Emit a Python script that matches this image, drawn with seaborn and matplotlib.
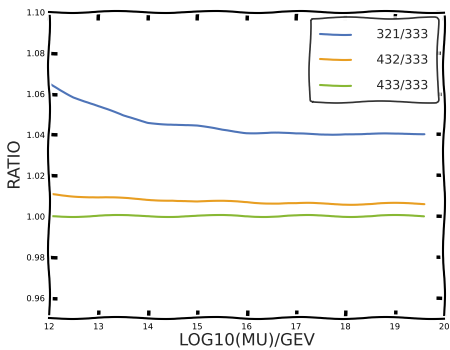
import numpy as np
import pandas as pd
import matplotlib
matplotlib.use("Agg")
import matplotlib.pyplot as plt
import seaborn as sns

# log10(mu)/GeV grid and the three ratios
mu = [12.0, 12.5, 13.0, 13.5, 14.0, 14.5, 15.0, 15.5, 16.0, 16.5, 17.0, 17.5, 18.0, 18.5, 19.0, 19.6]
r321 = [1.065, 1.0585, 1.0535, 1.049, 1.046, 1.045, 1.044, 1.042, 1.041, 1.041, 1.040, 1.040, 1.0405, 1.040, 1.040, 1.0405]
r432 = [1.011, 1.010, 1.009, 1.0085, 1.008, 1.008, 1.007, 1.007, 1.007, 1.0065, 1.006, 1.006, 1.006, 1.006, 1.006, 1.006]
r433 = [1.000, 1.000, 1.000, 1.000, 1.000, 1.000, 1.000, 1.000, 1.000, 1.000, 1.000, 1.000, 1.000, 1.000, 1.000, 1.000]
labels = ["321/333", "432/333", "433/333"]
colors = ["#4e74b8", "#e89e22", "#88b834"]

sns.set_style("white")
plt.xkcd()
plt.rcParams["font.family"] = ["DejaVu Sans"]

fig = plt.figure(figsize=(4.5, 3.5), dpi=100)
ax = fig.add_axes([0.109, 0.091, 0.878, 0.875])

for vals, lab, col in zip([r321, r432, r433], labels, colors):
    df = pd.DataFrame({"mu": mu, "ratio": vals})
    sns.lineplot(data=df, x="mu", y="ratio", ax=ax, color=col, label=lab, linewidth=1.5)

ax.set_xlim(12, 20)
ax.set_ylim(0.95, 1.10)
ax.set_xticks(np.arange(12, 21, 1))
ax.set_yticks([0.96, 0.98, 1.00, 1.02, 1.04, 1.06, 1.08, 1.10])
ax.set_yticklabels(["0.96", "0.98", "1.00", "1.02", "1.04", "1.06", "1.08", "1.10"])
ax.tick_params(axis="both", direction="in", labelsize=6, length=6, width=2.5,
               colors="black", pad=3, top=True, right=True, bottom=True, left=True)
for s in ax.spines.values():
    s.set_color("black")
ax.set_xlabel("LOG10(MU)/GEV", fontsize=12, labelpad=0)
ax.set_ylabel("RATIO", fontsize=12, labelpad=2)

leg = ax.legend(loc="upper right", fontsize=9, frameon=True, handlelength=2.5,
                borderpad=0.8, labelspacing=1.0, handletextpad=2.0)
leg.get_frame().set_edgecolor("black")
leg.get_frame().set_linewidth(1.2)

fig.savefig("out.png", dpi=100)
